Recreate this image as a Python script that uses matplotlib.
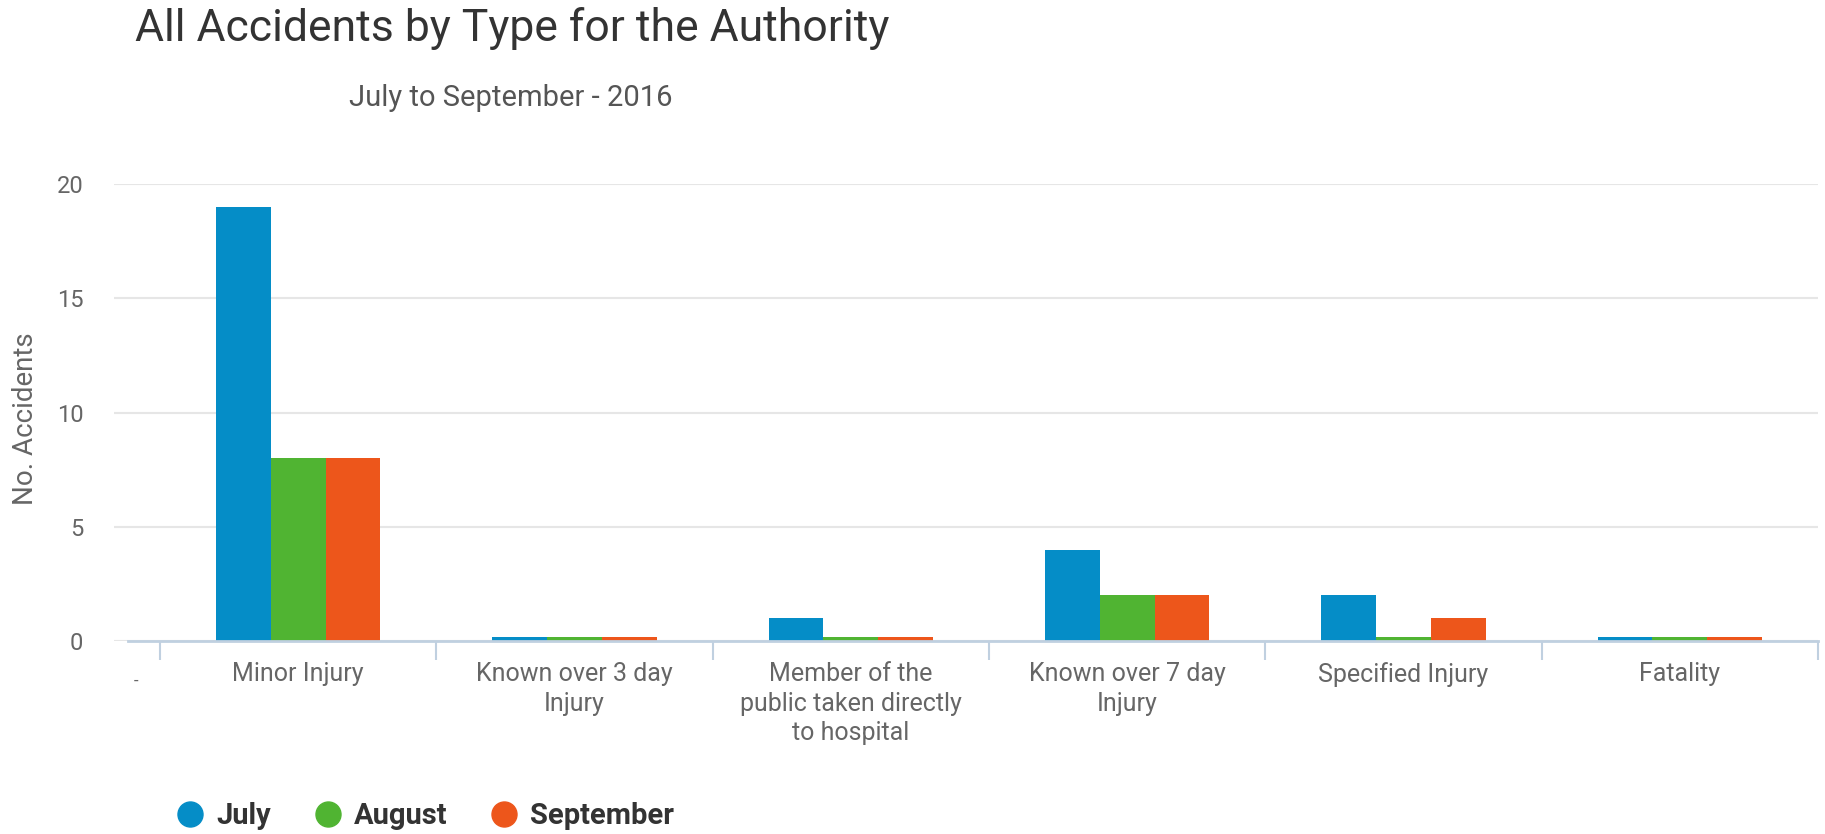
import numpy as np
import matplotlib
matplotlib.use("Agg")
import matplotlib.pyplot as plt
from matplotlib.lines import Line2D

categories = ["Minor Injury", "Known over 3 day\nInjury",
              "Member of the\npublic taken directly\nto hospital",
              "Known over 7 day\nInjury", "Specified Injury", "Fatality"]
months = ["July", "August", "September"]
july = [19, 0, 1, 4, 2, 0]
august = [8, 0, 0, 2, 0, 0]
september = [8, 0, 0, 2, 1, 0]
colors = ["#058DC7", "#50B432", "#ED561B"]

plt.rcParams["font.family"] = ["Roboto", "DejaVu Sans"]

fig = plt.figure(figsize=(18.25, 8.34), dpi=100)
W, H = 1825, 834
# plot area in pixels: left 114, right 1818, top 184, bottom 641
ax = fig.add_axes([114 / W, (H - 641) / H, (1818 - 114) / W, (641 - 184) / H])

x = np.arange(len(categories))
bw = 0.198
min_len = 0.19  # minimum visible bar length (like highcharts minPointLength)
for i, (vals, c) in enumerate(zip([july, august, september], colors)):
    h = np.maximum(np.array(vals, dtype=float), min_len)
    ax.bar(x + (i - 1) * bw, h, width=bw, color=c, zorder=3, linewidth=0)

left = -0.5 - (160 - 114) / 276.3
ax.set_xlim(left, 5.5)
ax.set_ylim(0, 20)
ax.set_yticks([0, 5, 10, 15, 20])
ax.grid(axis="y", color="#E6E6E6", linewidth=1.5, zorder=0)
ax.tick_params(axis="y", length=0, pad=22, labelsize=17, labelcolor="#666666")

ax.set_xticks(x)
ax.set_xticklabels(categories, fontsize=18, color="#666666", linespacing=1.3)
ax.tick_params(axis="x", which="major", length=0, pad=15)
ax.set_xticks(np.arange(-0.5, 6.0, 1.0), minor=True)
ax.tick_params(axis="x", which="minor", length=14, width=1.5, color="#C0D0E0")

for s in ax.spines.values():
    s.set_visible(False)
# x axis line starting a little to the left of the first category
ax.axhline(0, xmin=(128 - 114) / (1818 - 114), xmax=1, color="#C0D0E0",
           linewidth=2, zorder=4, clip_on=False)
fig.text(134 / W, 1 - 681 / H, "-", fontsize=12, color="#666666",
         ha="left", va="center")

fig.text(26 / W, 1 - 419 / H, "No. Accidents", fontsize=20, color="#666666",
         rotation=90, ha="center", va="center")

fig.text(512 / W, 1 - 29 / H, "All Accidents by Type for the Authority",
         fontsize=32, color="#333333", ha="center", va="center")
fig.text(511 / W, 1 - 98 / H, "July to September - 2016",
         fontsize=21, color="#555555", ha="center", va="center")

handles = [Line2D([], [], marker="o", linestyle="none", markersize=18,
                  markerfacecolor=c, markeredgecolor=c) for c in colors]
leg = fig.legend(handles, months, loc="center left",
                 bbox_to_anchor=(162 / W, 1 - 816 / H), ncol=3, frameon=False,
                 prop={"size": 21, "weight": "bold"}, handlelength=0.9,
                 handletextpad=0.45, columnspacing=1.5, borderpad=0)
for t in leg.get_texts():
    t.set_color("#333333")

fig.savefig("out.png", dpi=100)
